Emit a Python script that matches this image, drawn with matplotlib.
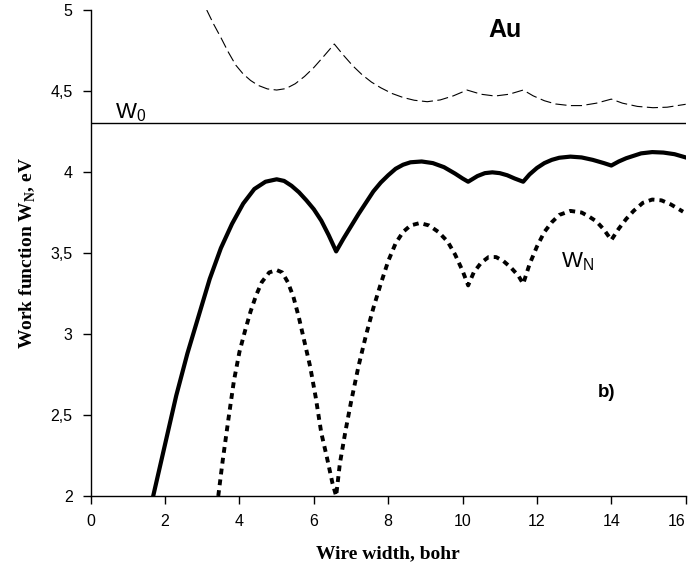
import numpy as np
import matplotlib
matplotlib.use("Agg")
import matplotlib.pyplot as plt
from matplotlib.ticker import FuncFormatter

# work function of Au nanowire vs wire width
w0 = 4.3

# thin dashed curve (top)
x_upper = [3.12, 3.3, 3.5, 3.7, 3.9, 4.1, 4.3, 4.5, 4.75, 5.0, 5.25, 5.5, 5.75, 6.0, 6.25,
           6.55, 6.8, 7.05, 7.3, 7.55, 7.8, 8.1, 8.4, 8.7, 9.05, 9.4, 9.75, 10.12, 10.5,
           10.87, 11.25, 11.63, 11.9, 12.2, 12.5, 12.88, 13.2, 13.6, 14.0, 14.3, 14.7,
           15.12, 15.5, 16.0]
y_upper = [5.0, 4.915, 4.83, 4.74, 4.66, 4.605, 4.565, 4.535, 4.513, 4.506, 4.515, 4.545,
           4.59, 4.645, 4.71, 4.79, 4.72, 4.655, 4.60, 4.555, 4.52, 4.485, 4.46, 4.443,
           4.434, 4.445, 4.47, 4.506, 4.48, 4.469, 4.48, 4.506, 4.47, 4.44, 4.42, 4.41,
           4.41, 4.425, 4.45, 4.425, 4.405, 4.397, 4.40, 4.418]

# thick solid curve
x_solid = [1.68, 2.0, 2.3, 2.6, 2.9, 3.2, 3.5, 3.8, 4.1, 4.4, 4.7, 5.0, 5.2, 5.4, 5.6, 5.8,
           6.0, 6.2, 6.4, 6.6, 6.8, 7.0, 7.2, 7.4, 7.6, 7.8, 8.0, 8.2, 8.4, 8.6, 8.9, 9.2,
           9.5, 9.8, 10.0, 10.15, 10.4, 10.6, 10.8, 11.0, 11.2, 11.4, 11.63, 11.8, 12.0,
           12.2, 12.4, 12.6, 12.9, 13.2, 13.5, 13.8, 14.0, 14.2, 14.4, 14.6, 14.8, 15.1,
           15.4, 15.7, 16.0]
y_solid = [2.0, 2.32, 2.62, 2.88, 3.11, 3.34, 3.53, 3.68, 3.805, 3.895, 3.94, 3.955, 3.945,
           3.915, 3.875, 3.825, 3.77, 3.70, 3.61, 3.51, 3.59, 3.665, 3.74, 3.81, 3.88,
           3.935, 3.98, 4.02, 4.045, 4.06, 4.065, 4.055, 4.03, 3.99, 3.96, 3.94, 3.975,
           3.993, 3.998, 3.993, 3.98, 3.96, 3.94, 3.985, 4.025, 4.055, 4.075, 4.088, 4.095,
           4.09, 4.075, 4.055, 4.04, 4.065, 4.085, 4.10, 4.115, 4.123, 4.12, 4.11, 4.09]

# thick dotted curve W_N
x_wn = [3.43, 3.55, 3.7, 3.85, 4.0, 4.15, 4.3, 4.45, 4.6, 4.8, 5.0, 5.15, 5.3, 5.45, 5.6,
        5.75, 5.9, 6.05, 6.2, 6.35, 6.5, 6.6, 6.7, 6.85, 7.0, 7.2, 7.4, 7.6, 7.8, 8.0, 8.2,
        8.4, 8.6, 8.85, 9.1, 9.35, 9.6, 9.8, 10.0, 10.15, 10.3, 10.5, 10.7, 10.9, 11.1,
        11.3, 11.5, 11.63, 11.8, 12.0, 12.2, 12.4, 12.6, 12.9, 13.2, 13.4, 13.6, 13.8,
        14.0, 14.2, 14.4, 14.6, 14.85, 15.1, 15.35, 15.6, 15.93]
y_wn = [2.0, 2.22, 2.47, 2.71, 2.89, 3.02, 3.14, 3.24, 3.32, 3.38, 3.395, 3.38, 3.32, 3.23,
        3.10, 2.95, 2.80, 2.61, 2.39, 2.24, 2.08, 2.0, 2.20, 2.40, 2.58, 2.80, 2.99, 3.16,
        3.31, 3.45, 3.56, 3.63, 3.67, 3.685, 3.67, 3.63, 3.57, 3.49, 3.39, 3.30, 3.38,
        3.44, 3.475, 3.475, 3.45, 3.41, 3.36, 3.31, 3.43, 3.54, 3.63, 3.69, 3.735, 3.76,
        3.75, 3.725, 3.695, 3.645, 3.58, 3.65, 3.71, 3.76, 3.81, 3.83, 3.825, 3.80, 3.755]

plt.rcParams['font.family'] = ['Liberation Sans', 'DejaVu Sans']
plt.rcParams['mathtext.fontset'] = 'custom'
plt.rcParams['mathtext.rm'] = 'Liberation Sans'
plt.rcParams['mathtext.it'] = 'Liberation Sans'
plt.rcParams['mathtext.bf'] = 'Liberation Serif:bold'

fig = plt.figure(figsize=(6.91, 5.69), dpi=100)
ax = fig.add_axes([0.1313, 0.1283, 0.8610, 0.8541])

ax.axhline(w0, color='black', lw=1.0)
ax.plot(x_upper, y_upper, color='black', lw=0.8, ls=(0, (10, 4)))
ax.plot(x_solid, y_solid, color='black', lw=3.0)
ax.plot(x_wn, y_wn, color='black', lw=2.8, ls=(0, (1.5, 1.3)))

ax.set_xlim(0, 16)
ax.set_ylim(2, 5)
ax.set_xticks(np.arange(0, 17, 2))
ax.set_yticks(np.arange(2, 5.01, 0.5))
ax.yaxis.set_major_formatter(FuncFormatter(lambda v, p: ('%g' % v).replace('.', ',')))

for s in ['top', 'right']:
    ax.spines[s].set_visible(False)
for s in ['left', 'bottom']:
    ax.spines[s].set_linewidth(1.0)
ax.tick_params(direction='out', length=6, width=1.0, pad=7, labelsize=11.5)
ax.get_xticklabels()[-1].set_horizontalalignment('right')

ax.set_xlabel('Wire width, bohr', fontfamily='Liberation Serif', fontweight='bold',
              fontsize=14, labelpad=12)
ax.set_ylabel(r'Work function W$_{\mathbf{N}}$, eV', fontfamily='Liberation Serif',
              fontweight='bold', fontsize=14, labelpad=10)

ax.text(0.65, 4.33, r'W$_{\rm 0}$', fontsize=16)
ax.text(12.66, 3.41, r'W$_{\rm N}$', fontsize=16)
ax.text(11.14, 4.877, 'Au', fontsize=18, fontweight='bold', ha='center', va='center')
ax.text(13.86, 2.64, 'b)', fontsize=13.5, fontweight='bold', ha='center', va='center')

fig.savefig('out.png', dpi=100)
